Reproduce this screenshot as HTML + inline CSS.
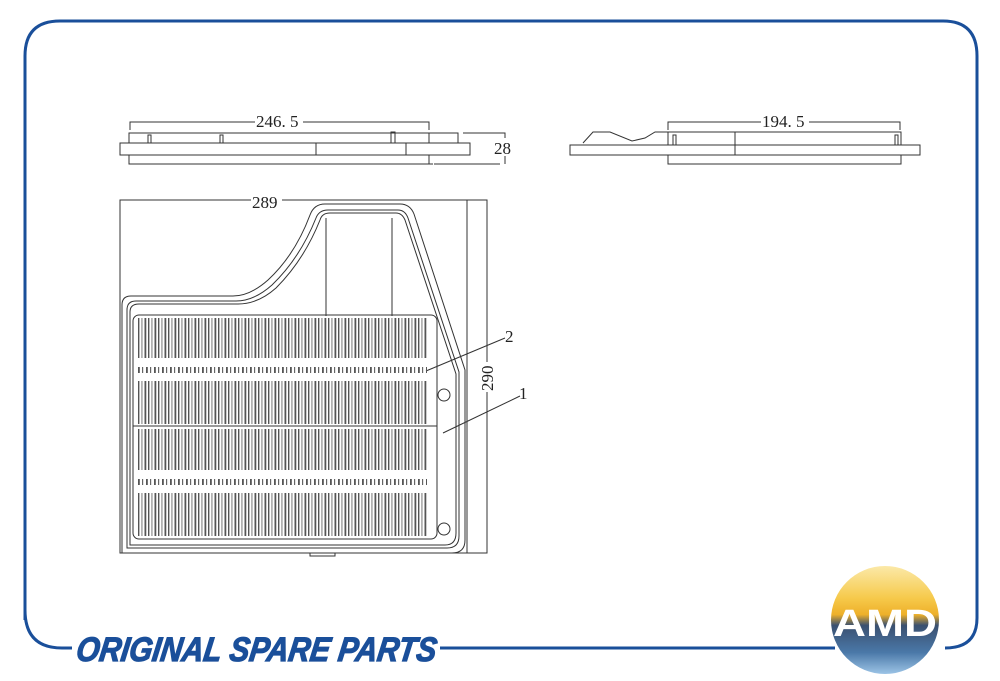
<!DOCTYPE html>
<html><head><meta charset="utf-8"><style>
html,body{margin:0;padding:0;background:#fff;width:1000px;height:681px;overflow:hidden}
svg{display:block}
text{font-family:"Liberation Serif",serif;fill:#222}
</style></head><body>
<svg width="1000" height="681" viewBox="0 0 1000 681" xmlns="http://www.w3.org/2000/svg">
<defs>
<pattern id="bars" x="138" y="0" width="10" height="10" patternUnits="userSpaceOnUse">
<rect x="0" y="0" width="1.4" height="10" fill="#555"/>
<rect x="3.5" y="0" width="0.9" height="10" fill="#666"/>
<rect x="6.5" y="0" width="1.8" height="10" fill="#555"/>
</pattern>
<pattern id="bars2" x="138" y="0" width="8" height="10" patternUnits="userSpaceOnUse">
<rect x="0" y="0" width="1.8" height="10" fill="#555"/>
<rect x="4" y="0" width="1.2" height="10" fill="#666"/>
</pattern>
<linearGradient id="lg" x1="0" y1="0" x2="0" y2="1">
<stop offset="0" stop-color="#fbe9a8"/><stop offset="0.3" stop-color="#f6c94a"/><stop offset="0.45" stop-color="#eeb02a"/>
<stop offset="0.55" stop-color="#3a5070"/><stop offset="0.8" stop-color="#4a78a8"/><stop offset="1" stop-color="#9cc4e6"/>
</linearGradient>
</defs>
<!-- frame -->
<path d="M25 620 L25 56 Q25 21 60 21 L943 21 Q977 21 977 56 L977 618 Q977 648 945 648" fill="none" stroke="#1a4f9a" stroke-width="3"/>
<path d="M25 610 Q25 648 62 648 L72 648" fill="none" stroke="#1a4f9a" stroke-width="3"/>
<line x1="440" y1="648" x2="835" y2="648" stroke="#1a4f9a" stroke-width="3"/>
<text x="75" y="661" style="font-family:'Liberation Sans',sans-serif;font-weight:bold;font-style:italic;font-size:34px;fill:#1a4f9a;stroke:#1a4f9a;stroke-width:1.2" textLength="360" lengthAdjust="spacingAndGlyphs" transform="skewX(-8) translate(93,0)">ORIGINAL SPARE PARTS</text>
<!-- logo -->
<circle cx="885" cy="620" r="54" fill="url(#lg)"/>
<text x="885" y="636" text-anchor="middle" style="font-family:'Liberation Sans',sans-serif;font-weight:bold;font-size:38px;fill:#fff" textLength="104" lengthAdjust="spacingAndGlyphs">AMD</text>
<g fill="none" stroke="#333" stroke-width="1">
<!-- top view left -->
<path d="M130 130 V122 H429 V130"/>
<rect x="120" y="143" width="350" height="12"/>
<rect x="129" y="133" width="300" height="10"/>
<rect x="129" y="155" width="300" height="9"/>
<path d="M429 133 H458 V143 M429 164 H433 M434 164 H500 M463 133 H505 V164"/>
<line x1="316" y1="143" x2="316" y2="155"/><line x1="406" y1="143" x2="406" y2="155"/>
<rect x="148" y="135" width="3" height="8"/><rect x="220" y="135" width="3" height="8"/><rect x="391" y="132" width="4" height="11"/>
<!-- top view right -->
<path d="M668 130 V122 H900 V130"/>
<rect x="570" y="145" width="350" height="10"/>
<rect x="668" y="132" width="233" height="13"/>
<rect x="668" y="155" width="233" height="9"/>
<path d="M583 143 L593 132 L610 132 L632 141 L645 138 L655 132 L668 132"/>
<line x1="735" y1="132" x2="735" y2="155"/>
<rect x="673" y="135" width="3" height="10"/><rect x="895" y="135" width="3" height="10"/>
<!-- front view -->
<path d="M120 553 V200 H467 V553 Z"/>
<path d="M467 200 H487 V553 H467"/>
<path d="M122 553 Q122 553 122 305 Q122 296 131 296 L233 296 Q250 296 268 280 Q295 255 310 215 Q314 204 325 204 L400 204 Q410 204 414 214 L465 370 L465 540 Q465 553 452 553 Z"/>
<path d="M127 548 L127 310 Q127 301 136 301 L236 301 Q254 301 272 285 Q300 258 316 218 Q319 210 328 210 L398 210 Q405 210 408 218 L459 372 L459 536 Q459 548 447 548 Z"/>
<path d="M130 545 L130 312 Q130 304 139 304 L238 304 Q258 304 276 288 Q304 260 320 220 Q322 213 330 213 L396 213 Q402 213 405 220 L456 374 L456 533 Q456 545 445 545 Z"/>
<line x1="326" y1="218" x2="326" y2="316"/><line x1="392" y1="218" x2="392" y2="316"/>
<rect x="133" y="315" width="304" height="224" rx="6"/>
<line x1="133" y1="426" x2="437" y2="426"/>
<circle cx="444" cy="395" r="6"/><circle cx="444" cy="529" r="6"/>
<path d="M310 553 V556 H335 V553"/>
<line x1="426" y1="371" x2="505" y2="338"/>
<line x1="443" y1="433" x2="520" y2="396"/>
</g>
<g>
<rect x="138" y="318" width="289" height="40" fill="url(#bars)"/>
<rect x="138" y="367" width="289" height="6" fill="url(#bars2)"/>
<rect x="138" y="381" width="289" height="43" fill="url(#bars)"/>
<rect x="138" y="429" width="289" height="41" fill="url(#bars)"/>
<rect x="138" y="479" width="289" height="6" fill="url(#bars2)"/>
<rect x="138" y="493" width="289" height="43" fill="url(#bars)"/>
</g>
<g font-size="17">
<rect x="255" y="111" width="48" height="16" fill="#fff"/>
<text x="256" y="127">246. 5</text>
<rect x="761" y="111" width="48" height="16" fill="#fff"/>
<text x="762" y="127">194. 5</text>
<rect x="494" y="138" width="22" height="18" fill="#fff"/>
<text x="494" y="154">28</text>
<rect x="251" y="193" width="31" height="16" fill="#fff"/>
<text x="252" y="208">289</text>
<rect x="479" y="362" width="16" height="30" fill="#fff"/>
<text transform="translate(493,391) rotate(-90)">290</text>
<text x="505" y="342">2</text>
<text x="519" y="399">1</text>
</g>
</svg>
</body></html>
